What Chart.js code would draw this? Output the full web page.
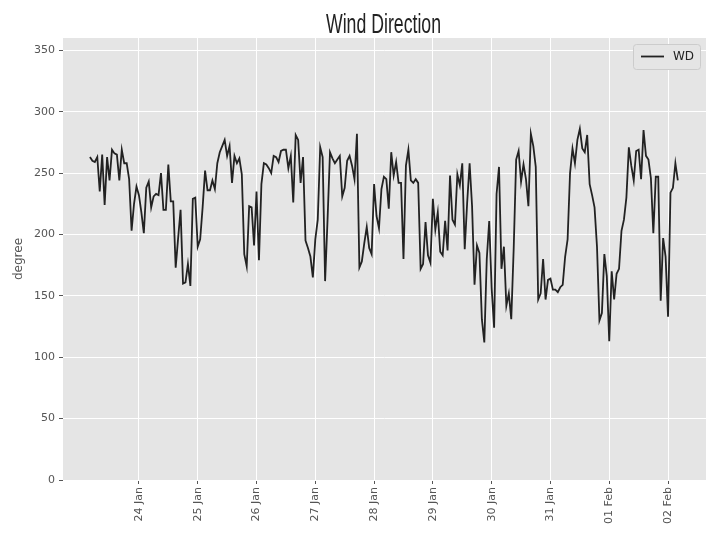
<!DOCTYPE html>
<html>
<head>
<meta charset="utf-8">
<script src="https://cdn.jsdelivr.net/npm/chart.js@4.4.1/dist/chart.umd.min.js"></script>
<style>
  html, body { margin: 0; padding: 0; background: #fff; }
</style>
</head>
<body>
<canvas id="windChart" width="720" height="540"></canvas>
<script>
// Hourly wind direction (degrees), 23 Jan 04:00 -> 02 Feb 04:00
const startHour = -20; // hours relative to 24 Jan 00:00
const windDir = [
  263, 260, 259, 263, 235, 265, 224, 263, 244, 269,
  266, 265, 244, 269, 258, 258, 245, 203, 225, 239,
  232, 218, 201, 238, 243, 222, 231, 233, 232, 250,
  220, 220, 257, 227, 227, 173, 197, 220, 160, 161,
  176, 158, 229, 230, 190, 196, 222, 252,
  236, 236, 244, 237, 258, 267, 272, 277, 264, 272,
  242, 264, 258, 262, 249, 184, 174, 223, 222, 191,
  235, 179, 241, 258, 257, 254, 250, 264, 263, 259,
  268, 269, 269, 254, 264, 226, 281, 277, 242, 263,
  195, 189, 182, 165, 196, 212, 271,
  263, 162, 212, 267, 262, 258, 261, 264, 231, 238,
  260, 264, 256, 245, 282, 173, 178, 193, 206, 189,
  184, 241, 215, 205, 237, 247, 245, 221, 267, 248,
  259, 242, 242, 180, 256, 269, 244, 242, 245, 242,
  172, 176, 210, 183, 177, 229, 204,
  218, 186, 183, 211, 187, 248, 212, 208, 249, 240,
  258, 188, 226, 258, 223, 159, 191, 185, 131, 112,
  180, 211, 156, 124, 233, 255, 172, 190, 142, 152,
  131, 189, 261, 268, 243, 257, 245, 223, 282, 272,
  255, 147, 152, 180, 147, 163, 164,
  155, 155, 153, 157, 159, 182, 196, 250, 270, 258,
  277, 286, 270, 267, 281, 241, 232, 222, 190, 130,
  136, 184, 166, 113, 170, 147, 168, 172, 203, 212,
  230, 271, 256, 244, 268, 269, 245, 285, 264, 261,
  246, 201, 247, 247, 146, 197, 182, 133, 234, 238,
  258, 244
];

const tickHours  = [0, 24, 48, 72, 96, 120, 144, 168, 192, 216];
const tickLabels = ['24 Jan', '25 Jan', '26 Jan', '27 Jan', '28 Jan',
                    '29 Jan', '30 Jan', '31 Jan', '01 Feb', '02 Feb'];
const yTicks = [0, 50, 100, 150, 200, 250, 300, 350];

const points = windDir.map((v, i) => ({ x: startHour + i, y: v }));

// panel background, title, y label and legend box
const decorations = {
  id: 'decorations',
  beforeDraw(chart) {
    const { ctx, chartArea: a } = chart;
    ctx.save();
    ctx.fillStyle = '#ffffff';
    ctx.fillRect(0, 0, chart.width, chart.height);
    ctx.fillStyle = '#e5e5e5';
    ctx.fillRect(a.left, a.top, a.right - a.left, a.bottom - a.top);
    ctx.restore();
  },
  afterDraw(chart) {
    const { ctx, chartArea: a } = chart;
    ctx.save();
    // title, narrow like the original condensed face
    ctx.fillStyle = '#222';
    ctx.font = '27px "Liberation Sans Narrow", "Liberation Sans", sans-serif';
    ctx.textAlign = 'center';
    ctx.textBaseline = 'alphabetic';
    const tw = ctx.measureText('Wind Direction').width;
    ctx.translate((a.left + a.right) / 2 - 1, 33);
    ctx.scale(115 / tw, 1);
    ctx.fillText('Wind Direction', 0, 0);
    ctx.setTransform(1, 0, 0, 1, 0, 0);

    // y axis label
    ctx.translate(19, (a.top + a.bottom) / 2);
    ctx.rotate(-Math.PI / 2);
    ctx.fillStyle = '#555';
    ctx.font = '12px "DejaVu Sans", sans-serif';
    ctx.textBaseline = 'middle';
    ctx.fillText('degree', 0, 0);
    ctx.setTransform(1, 0, 0, 1, 0, 0);

    // legend
    const lx = 633, ly = 44, lw = 67, lh = 25;
    ctx.fillStyle = '#e5e5e5';
    ctx.strokeStyle = '#cccccc';
    ctx.lineWidth = 1;
    ctx.beginPath();
    ctx.roundRect(lx + 0.5, ly + 0.5, lw, lh, 3);
    ctx.fill();
    ctx.stroke();
    ctx.strokeStyle = '#222';
    ctx.lineWidth = 1.8;
    ctx.beginPath();
    ctx.moveTo(641, 56.5);
    ctx.lineTo(664, 56.5);
    ctx.stroke();
    ctx.fillStyle = '#222';
    ctx.font = '12px "DejaVu Sans", sans-serif';
    ctx.textAlign = 'left';
    ctx.textBaseline = 'middle';
    ctx.fillText('WD', 673, 57);
    ctx.restore();
  }
};

new Chart(document.getElementById('windChart'), {
  type: 'line',
  data: {
    datasets: [{
      label: 'WD',
      data: points,
      borderColor: '#222222',
      borderWidth: 1.8,
      pointRadius: 0,
      tension: 0,
      fill: false
    }]
  },
  options: {
    responsive: false,
    animation: false,
    devicePixelRatio: 1,
    layout: { padding: { top: 38, right: 14, left: 0, bottom: 0 } },
    plugins: {
      legend: { display: false },
      title: { display: false },
      tooltip: { enabled: false }
    },
    scales: {
      x: {
        type: 'linear',
        min: -31,
        max: 231.5,
        afterBuildTicks: axis => { axis.ticks = tickHours.map(v => ({ value: v })); },
        afterFit: scale => { scale.height = 60; },
        ticks: {
          autoSkip: false,
          minRotation: 90,
          maxRotation: 90,
          padding: 3,
          color: '#555',
          font: { family: 'DejaVu Sans', size: 11 },
          callback: (v, i) => tickLabels[i]
        },
        grid: { color: '#ffffff', lineWidth: 1, tickColor: '#555', tickLength: 4 },
        border: { display: false }
      },
      y: {
        min: 0,
        max: 360,
        afterBuildTicks: axis => { axis.ticks = yTicks.map(v => ({ value: v })); },
        afterFit: scale => { scale.width = 63; },
        ticks: {
          padding: 4,
          color: '#555',
          font: { family: 'DejaVu Sans', size: 11 }
        },
        grid: { color: '#ffffff', lineWidth: 1, tickColor: '#555', tickLength: 4 },
        border: { display: false }
      }
    }
  },
  plugins: [decorations]
});
</script>
</body>
</html>
